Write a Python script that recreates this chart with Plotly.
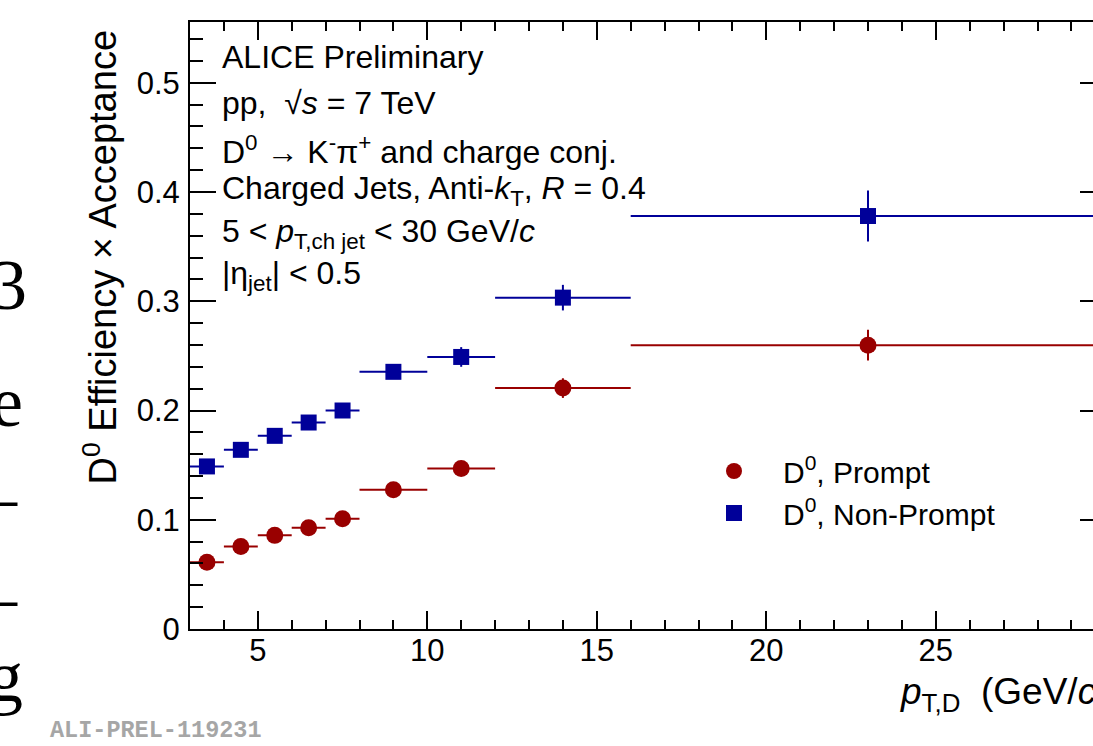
import plotly.graph_objects as go

# pT,D bins (GeV/c): centres and half widths
pt_centre = [3.5, 4.5, 5.5, 6.5, 7.5, 9.0, 11.0, 14.0, 23.0]
pt_halfwidth = [0.5, 0.5, 0.5, 0.5, 0.5, 1.0, 1.0, 2.0, 7.0]

# Efficiency x acceptance, prompt D0
prompt_eff = [0.061, 0.0755, 0.0857, 0.0927, 0.101, 0.1274, 0.147, 0.2205, 0.2598]
prompt_err = [0.003, 0.003, 0.003, 0.004, 0.004, 0.005, 0.006, 0.009, 0.014]

# Efficiency x acceptance, non-prompt D0
nonprompt_eff = [0.1488, 0.164, 0.1768, 0.189, 0.200, 0.2354, 0.249, 0.3033, 0.378]
nonprompt_err = [0.004, 0.004, 0.004, 0.005, 0.005, 0.006, 0.009, 0.0117, 0.0233]

RED = "#990000"
BLUE = "#000099"
SANS = "Liberation Sans, Arial, Helvetica, sans-serif"
SERIF = "Liberation Serif, Times New Roman, serif"

W, H = 1093, 746
ML, MT, MB, MR = 190, 22, 117, 0
PW, PH = W - ML - MR, H - MT - MB
PX_PER_UNIT = 33.9
x_range = [3, 3 + PW / PX_PER_UNIT]
y_range = [0, 0.5556]


def px(xpix):
    return (xpix - ML) / PW


def py(ypix):
    return (H - MB - ypix) / PH


fig = go.Figure()

fig.add_trace(go.Scatter(
    x=pt_centre, y=prompt_eff, mode="markers", name="D<sup>0</sup>, Prompt",
    marker=dict(symbol="circle", size=17, color=RED),
    error_x=dict(type="data", array=pt_halfwidth, width=0, thickness=2, color=RED),
    error_y=dict(type="data", array=prompt_err, width=0, thickness=2, color=RED),
))
fig.add_trace(go.Scatter(
    x=pt_centre, y=nonprompt_eff, mode="markers", name="D<sup>0</sup>, Non-Prompt",
    marker=dict(symbol="square", size=16, color=BLUE),
    error_x=dict(type="data", array=pt_halfwidth, width=0, thickness=2, color=BLUE),
    error_y=dict(type="data", array=nonprompt_err, width=0, thickness=2, color=BLUE),
))
# carrier for the right-hand tick axis
fig.add_trace(go.Scatter(x=[None], y=[None], yaxis="y2", showlegend=False, hoverinfo="skip"))

# ALICE info block
info_lines = [
    "ALICE Preliminary",
    "pp,  √<i>s</i> = 7 TeV",
    "D<sup>0</sup> → K<sup>-</sup>π<sup>+</sup> and charge conj.",
    "Charged Jets, Anti-<i>k</i><sub>T</sub>, <i>R</i> = 0.4",
    "5 &lt; <i>p</i><sub>T,ch jet</sub> &lt; 30 GeV/<i>c</i>",
    "|η<sub>jet</sub>| &lt; 0.5",
]
info_y = [57, 103, 150, 190, 233, 275]
annotations = []
for txt, yy in zip(info_lines, info_y):
    annotations.append(dict(
        text=txt, x=px(220), y=py(yy), xref="paper", yref="paper",
        xanchor="left", yanchor="middle", showarrow=False,
        font=dict(family=SANS, size=32, color="black"),
    ))

# axis titles
annotations.append(dict(
    text="D<sup>0</sup> Efficiency × Acceptance", textangle=-90,
    x=px(100), y=py(28), xref="paper", yref="paper",
    xanchor="center", yanchor="top", showarrow=False,
    font=dict(family=SANS, size=38, color="black"),
))
annotations.append(dict(
    text="<i>p</i><sub>T,D</sub>  (GeV/<i>c</i>)",
    x=px(1110), y=py(694), xref="paper", yref="paper",
    xanchor="right", yanchor="middle", showarrow=False,
    font=dict(family=SANS, size=37, color="black"),
))

# preliminary figure tag
annotations.append(dict(
    text="<b>ALI-PREL-119231</b>", x=px(48), y=py(730), xref="paper", yref="paper",
    xanchor="left", yanchor="middle", showarrow=False,
    font=dict(family="Liberation Mono, Courier New, monospace", size=23.5, color="#a6a6a6"),
))

# large serif glyphs at the page's left edge
glyphs = [("3", 29, 285), ("e", 25, 402), ("–", 20, 497), ("–", 20, 597), ("g", 25, 677)]
for g, xr, yc in glyphs:
    annotations.append(dict(
        text=g, x=px(xr), y=py(yc), xref="paper", yref="paper",
        xanchor="right", yanchor="middle", showarrow=False,
        font=dict(family=SERIF, size=72, color="black"),
    ))

fig.update_layout(
    width=W, height=H,
    margin=dict(l=ML, r=MR, t=MT, b=MB, pad=0),
    paper_bgcolor="white", plot_bgcolor="white",
    showlegend=True,
    legend=dict(
        x=px(685), y=py(445), xanchor="left", yanchor="top",
        bgcolor="rgba(0,0,0,0)", borderwidth=0,
        font=dict(family=SANS, size=30, color="black"),
        tracegroupgap=0, itemwidth=88,
    ),
    annotations=annotations,
    xaxis=dict(
        range=x_range, tick0=0, dtick=5,
        ticks="inside", ticklen=18, tickwidth=2, tickcolor="black",
        showline=True, linewidth=2, linecolor="black", mirror="ticks",
        showgrid=False, zeroline=False,
        tickfont=dict(family=SANS, size=31, color="black"),
        ticklabelstandoff=-7,
        minor=dict(dtick=1, tick0=0, ticks="inside", ticklen=9, tickwidth=2,
                   tickcolor="black", showgrid=False),
    ),
    yaxis=dict(
        range=y_range, tick0=0, dtick=0.1,
        ticks="inside", ticklen=26, tickwidth=2, tickcolor="black",
        showline=True, linewidth=2, linecolor="black", mirror=False,
        showgrid=False, zeroline=False,
        tickfont=dict(family=SANS, size=31, color="black"),
        ticklabelstandoff=2,
        minor=dict(dtick=0.02, tick0=0, ticks="inside", ticklen=13, tickwidth=2,
                   tickcolor="black", showgrid=False),
    ),
    yaxis2=dict(
        range=y_range, tick0=0, dtick=0.1, overlaying="y", side="right", anchor="x",
        ticks="inside", ticklen=13, tickwidth=2, tickcolor="black",
        showticklabels=False, showline=False, showgrid=False, zeroline=False,
    ),
)

fig.write_html("out.html")
